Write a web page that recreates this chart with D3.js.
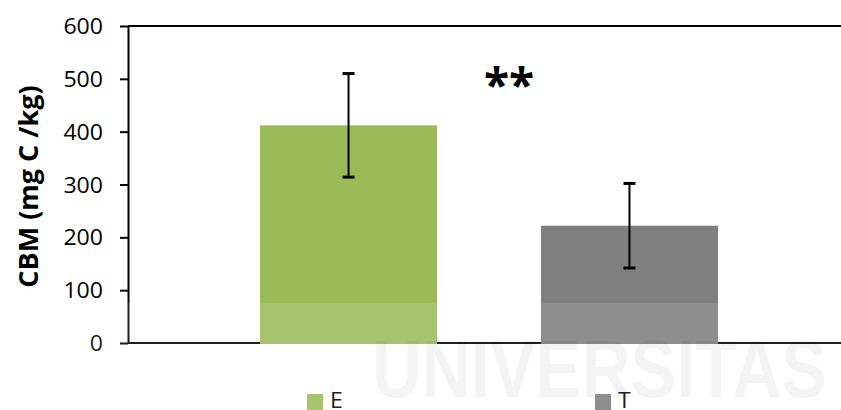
<!DOCTYPE html>
<html>
<head>
<meta charset="utf-8">
<script src="https://cdn.jsdelivr.net/npm/d3@7"></script>
<style>
  html, body { margin: 0; padding: 0; background: #fff; }
  svg { display: block; }
</style>
</head>
<body>
<svg id="chart" width="841" height="410"></svg>
<script>
// Soil microbial biomass carbon by treatment
const series = ["E", "T"];
const values = [412, 222];
const errors = [98, 80];
const yTicks = [0, 100, 200, 300, 400, 500, 600];
const yLabel = "CBM (mg C /kg)";
const signif = "**";
const colors = ["#9BBB59", "#7F7F7F"];

const svg = d3.select("#chart");
const W = 841, H = 410;
const plot = { left: 128, right: 850, top: 26, bottom: 343 };

const y = d3.scaleLinear().domain([0, 600]).range([plot.bottom, plot.top]);
const x = d3.scaleBand().domain(series)
  .range([plot.left, plot.right])
  .paddingInner(0.37)
  .paddingOuter(0.47);

const stretch = 1.1;
const font = "'Open Sans', sans-serif";

// Frame: top border line and horizontal base line
svg.append("line")
  .attr("x1", plot.left).attr("x2", W)
  .attr("y1", y(600)).attr("y2", y(600))
  .attr("stroke", "#000").attr("stroke-width", 2);
svg.append("line")
  .attr("x1", plot.left).attr("x2", W)
  .attr("y1", y(0)).attr("y2", y(0))
  .attr("stroke", "#000").attr("stroke-width", 2);

// Y axis
const yAxis = svg.append("g")
  .attr("transform", `translate(${plot.left},0)`)
  .call(d3.axisLeft(y).tickValues(yTicks).tickSize(8).tickPadding(17).tickSizeOuter(0));
yAxis.select(".domain").attr("stroke", "#000").attr("stroke-width", 2);
yAxis.selectAll(".tick line").attr("stroke", "#000").attr("stroke-width", 2);
yAxis.selectAll(".tick text")
  .attr("font-family", font)
  .attr("font-size", 21)
  .attr("fill", "#000")
  .attr("x", -25 / stretch)
  .attr("dy", "0.36em")
  .attr("transform", `scale(${stretch},1)`);

// Bars
svg.append("g").selectAll("rect")
  .data(series)
  .join("rect")
  .attr("x", d => x(d))
  .attr("width", x.bandwidth())
  .attr("y", (d, i) => y(values[i]))
  .attr("height", (d, i) => y(0) - y(values[i]) + 1)
  .attr("fill", (d, i) => colors[i]);

// Error bars
const cap = 6;
const eb = svg.append("g").attr("stroke", "#000").attr("stroke-width", 2);
series.forEach((s, i) => {
  const cx = x(s) + x.bandwidth() / 2;
  const hi = y(values[i] + errors[i]);
  const lo = y(values[i] - errors[i]);
  eb.append("line").attr("x1", cx).attr("x2", cx).attr("y1", hi).attr("y2", lo);
  eb.append("line").attr("x1", cx - cap).attr("x2", cx + cap).attr("y1", hi).attr("y2", hi).attr("stroke-width", 3);
  eb.append("line").attr("x1", cx - cap).attr("x2", cx + cap).attr("y1", lo).attr("y2", lo).attr("stroke-width", 3);
});

// Significance mark
svg.append("text")
  .attr("x", (x("E") + x("T") + x.bandwidth()) / 2 + 20)
  .attr("y", 102)
  .attr("text-anchor", "middle")
  .attr("font-family", font)
  .attr("font-weight", "bold")
  .attr("font-size", 46)
  .attr("fill", "#000")
  .text(signif);

// Y axis title
svg.append("text")
  .attr("transform", "translate(38,186.5) rotate(-90)")
  .attr("text-anchor", "middle")
  .attr("font-family", font)
  .attr("font-weight", "bold")
  .attr("font-size", 27)
  .attr("fill", "#000")
  .text(yLabel);

// Legend
const legendX = [307, 595];
const lg = svg.append("g");
series.forEach((s, i) => {
  lg.append("rect")
    .attr("x", legendX[i]).attr("y", 394)
    .attr("width", 16).attr("height", 16)
    .attr("fill", colors[i]);
  lg.append("text")
    .attr("x", (legendX[i] + 23) / stretch)
    .attr("y", 408)
    .attr("transform", `scale(${stretch},1)`)
    .attr("font-family", font)
    .attr("font-size", 21)
    .attr("fill", "#000")
    .text(s);
});

// Faint watermark band along the bottom
const wm = svg.append("g").attr("pointer-events", "none");
wm.append("rect")
  .attr("x", 47).attr("y", 303)
  .attr("width", W - 47).attr("height", H - 303)
  .attr("fill", "#fff").attr("fill-opacity", 0.12);
wm.append("text")
  .attr("x", 372).attr("y", 397)
  .attr("textLength", 455)
  .attr("lengthAdjust", "spacingAndGlyphs")
  .attr("font-family", "'Liberation Sans Narrow', 'Liberation Sans', sans-serif")
  .attr("font-weight", "bold")
  .attr("font-size", 82)
  .attr("fill", "#000")
  .attr("fill-opacity", 0.045)
  .text("UNIVERSITAS");
</script>
</body>
</html>
